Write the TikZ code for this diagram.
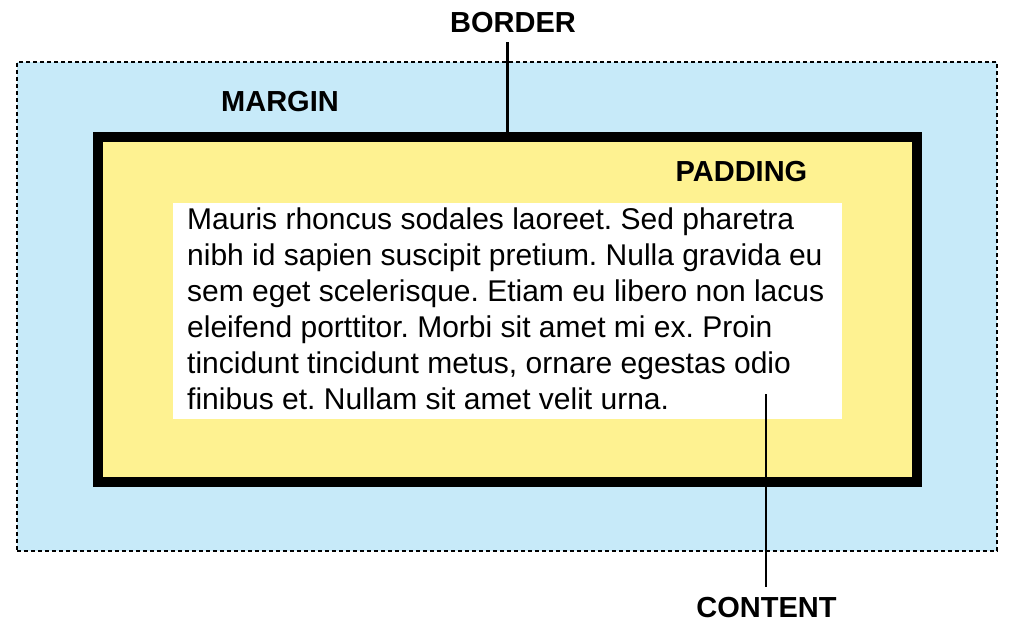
\documentclass[tikz,border=0pt]{standalone}
\usepackage{fontspec}
\setmainfont{Liberation Sans}
\usepackage{tikz}
\usetikzlibrary{arrows,shapes,positioning}
\usepackage{xcolor}
\definecolor{bmblue}{RGB}{199,234,249}
\definecolor{bmyellow}{RGB}{254,242,145}
\tikzstyle{boxlabel} = [font=\fontsize{29}{32}\selectfont\bfseries, inner sep=10pt, anchor=base]
\tikzstyle{pointer} = [line width=2.5pt, color=black]

\begin{document}
\frenchspacing
\begin{tikzpicture}[x=1pt, y=-1pt]
\useasboundingbox (0,0) rectangle (1026,643);
% Box model layers
\node[draw, fill=bmblue, line width=1.5pt, dash pattern=on 4pt off 3pt, minimum width=980pt, minimum height=489pt] (margin) at (507,306.5) {};
\node[draw, fill=bmyellow, line width=10pt, minimum width=819pt, minimum height=345pt] (border) at (507.5,309.5) {};
\node[fill=white, minimum width=669pt, minimum height=216pt] (content) at (507.5,311) {};

\node[anchor=north west, inner sep=0pt, align=left, font=\fontsize{30}{36}\selectfont] (lorem) at (187,208) {Mauris rhoncus sodales laoreet. Sed pharetra\\nibh id sapien suscipit pretium. Nulla gravida eu\\sem eget scelerisque. Etiam eu libero non lacus\\eleifend porttitor. Morbi sit amet mi ex. Proin\\tincidunt tincidunt metus, ornare egestas odio\\finibus et. Nullam sit amet velit urna.};

% Labels
\node[boxlabel] (borderlbl) at (513,32) {BORDER};
\node[boxlabel] (marginlbl) at (280,111) {MARGIN};
\node[boxlabel] (paddinglbl) at (741.5,181) {PADDING};
\node[boxlabel] (contentlbl) at (766.5,617) {CONTENT};

% Pointer lines
\coordinate (contentend) at (766,394);
\draw[pointer] (borderlbl.south -| border.north) -- (border.north);
\draw[pointer] (contentlbl.north -| contentend) -- (contentend);
\end{tikzpicture}
\end{document}
